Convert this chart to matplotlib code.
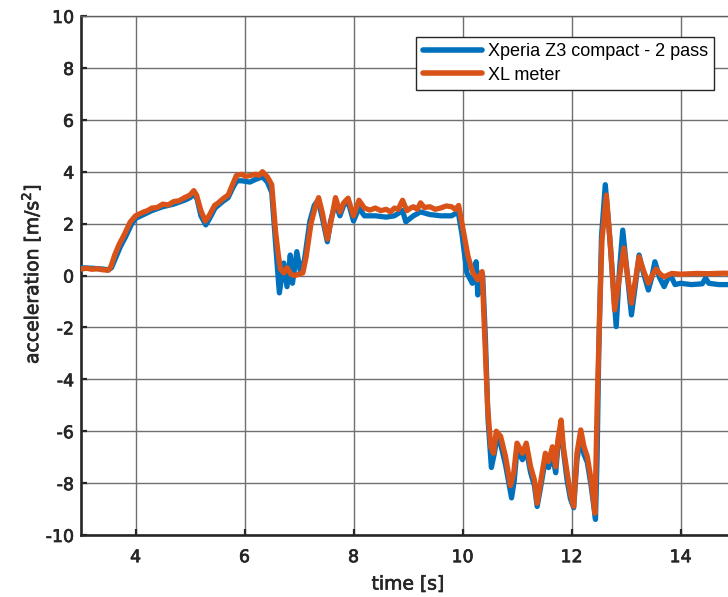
import matplotlib
matplotlib.use("Agg")
import matplotlib.pyplot as plt
import matplotlib.patheffects as pe

plt.rcParams["axes.unicode_minus"] = False

# ---- measured series -------------------------------------------------------
t_xl = [3.0, 3.1, 3.2, 3.3, 3.4, 3.5, 3.55, 3.62, 3.7, 3.8, 3.9, 4.0, 4.08,
        4.15, 4.22, 4.3, 4.4, 4.5, 4.6, 4.7, 4.8, 4.9, 5.0, 5.07, 5.12, 5.2,
        5.28, 5.35, 5.45, 5.52, 5.6, 5.7, 5.78, 5.85, 5.95, 6.02, 6.1, 6.2,
        6.27, 6.33, 6.42, 6.5, 6.57, 6.62, 6.66, 6.72, 6.78, 6.85, 6.92, 7.0,
        7.07, 7.13, 7.22, 7.3, 7.36, 7.43, 7.52, 7.58, 7.67, 7.75, 7.82, 7.9,
        8.0, 8.1, 8.2, 8.3, 8.4, 8.5, 8.6, 8.68, 8.75, 8.82, 8.9, 8.98, 9.05,
        9.1, 9.17, 9.23, 9.3, 9.4, 9.5, 9.6, 9.7, 9.8, 9.87, 9.93, 10.0, 10.1,
        10.19, 10.28, 10.36, 10.4, 10.46, 10.52, 10.57, 10.62, 10.7, 10.79,
        10.88, 10.94, 11.0, 11.1, 11.17, 11.25, 11.32, 11.37, 11.43, 11.52,
        11.58, 11.65, 11.71, 11.75, 11.81, 11.85, 11.92, 11.98, 12.04, 12.1,
        12.17, 12.23, 12.29, 12.36, 12.43, 12.47, 12.52, 12.56, 12.64, 12.72,
        12.79, 12.87, 12.96, 13.03, 13.1, 13.17, 13.24, 13.32, 13.41, 13.48,
        13.55, 13.63, 13.7, 13.84, 14.0, 14.3, 14.5, 14.8, 15.0]
a_xl = [0.25, 0.28, 0.24, 0.26, 0.22, 0.2, 0.35, 0.8, 1.2, 1.6, 2.05, 2.3,
        2.38, 2.45, 2.5, 2.6, 2.62, 2.75, 2.72, 2.85, 2.88, 3.0, 3.1, 3.27,
        3.1, 2.5, 2.1, 2.3, 2.7, 2.8, 2.95, 3.1, 3.5, 3.85, 3.9, 3.82, 3.85,
        3.9, 3.86, 4.0, 3.8, 3.5, 1.7, 0.8, 0.25, 0.1, 0.3, 0.05, 0.0, 0.05,
        0.1, 0.7, 2.0, 2.65, 3.0, 2.4, 1.4, 2.0, 3.0, 2.45, 2.8, 2.98, 2.3,
        2.9, 2.6, 2.52, 2.6, 2.5, 2.55, 2.45, 2.6, 2.55, 2.9, 2.5, 2.6, 2.65,
        2.55, 2.8, 2.62, 2.65, 2.55, 2.6, 2.68, 2.65, 2.55, 2.7, 1.9, 0.75,
        0.1, -0.17, 0.15, -1.97, -5.05, -6.6, -6.85, -6.0, -6.2, -6.98, -8.1,
        -7.6, -6.46, -6.85, -6.46, -7.37, -7.88, -8.78, -8.0, -6.85, -7.17,
        -6.6, -7.37, -6.34, -5.57, -6.6, -7.6, -8.4, -8.9, -6.85, -5.95,
        -6.6, -6.98, -7.88, -9.16, -5.05, -1.2, 1.37, 3.1, 1.0, -1.33, -0.2,
        1.06, 0.0, -1.07, -0.2, 0.72, 0.2, -0.3, 0.0, 0.25, 0.05, -0.05, 0.08,
        0.05, 0.08, 0.07, 0.09, 0.07]

t_phone = [3.0, 3.2, 3.4, 3.5, 3.56, 3.64, 3.72, 3.82, 3.92, 4.0, 4.15, 4.3,
           4.5, 4.7, 4.9, 5.0, 5.07, 5.13, 5.2, 5.29, 5.36, 5.46, 5.6, 5.7,
           5.79, 5.86, 5.95, 6.1, 6.2, 6.33, 6.42, 6.5, 6.56, 6.6, 6.64,
           6.72, 6.78, 6.84, 6.88, 6.96, 7.03, 7.1, 7.2, 7.28, 7.35, 7.43,
           7.52, 7.58, 7.67, 7.75, 7.82, 7.9, 8.0, 8.1, 8.2, 8.4, 8.6, 8.75,
           8.9, 8.96, 9.1, 9.23, 9.4, 9.6, 9.8, 9.92, 9.99, 10.08, 10.18,
           10.25, 10.28, 10.33, 10.37, 10.42, 10.47, 10.53, 10.58, 10.63,
           10.7, 10.79, 10.9, 10.95, 11.0, 11.1, 11.17, 11.25, 11.32, 11.37,
           11.43, 11.52, 11.58, 11.65, 11.71, 11.75, 11.81, 11.86, 11.92,
           11.98, 12.04, 12.1, 12.17, 12.23, 12.29, 12.36, 12.44, 12.47,
           12.5, 12.55, 12.62, 12.7, 12.82, 12.88, 12.94, 13.02, 13.1, 13.17,
           13.24, 13.32, 13.41, 13.47, 13.53, 13.62, 13.7, 13.76, 13.82,
           13.9, 14.0, 14.2, 14.4, 14.46, 14.52, 14.7, 15.0]
a_phone = [0.3, 0.28, 0.25, 0.22, 0.3, 0.7, 1.1, 1.5, 1.95, 2.2, 2.35, 2.5,
           2.65, 2.75, 2.9, 3.0, 3.15, 2.95, 2.3, 1.95, 2.2, 2.6, 2.85, 3.0,
           3.4, 3.65, 3.65, 3.6, 3.7, 3.8, 3.6, 3.2, 1.5, 0.4, -0.67, 0.48,
           -0.43, 0.79, -0.3, 0.92, 0.1, 0.6, 2.1, 2.7, 2.9, 2.2, 1.3, 2.1,
           2.8, 2.3, 2.7, 2.85, 2.1, 2.6, 2.3, 2.3, 2.25, 2.3, 2.5, 2.07, 2.3,
           2.45, 2.35, 2.3, 2.3, 2.45, 1.6, 0.1, -0.3, 0.53, -0.75, 0.1, 0.0,
           -2.4, -5.6, -7.4, -6.9, -6.3, -6.5, -7.3, -8.57, -7.9, -6.7, -7.1,
           -6.7, -7.6, -8.1, -8.9, -8.2, -7.1, -7.4, -6.9, -7.6, -6.6, -5.9,
           -6.9, -7.9, -8.6, -8.95, -7.1, -6.2, -6.9, -7.2, -8.1, -9.4, -7.0,
           -3.0, 1.5, 3.5, 1.5, -1.97, 0.2, 1.75, 0.1, -1.52, -0.4, 0.79, 0.1,
           -0.56, -0.1, 0.53, -0.1, -0.43, -0.15, 0.0, -0.35, -0.3, -0.35,
           -0.32, -0.1, -0.3, -0.35, -0.35]

series_names = ["Xperia Z3 compact - 2 pass", "XL meter"]
x_ticks = [4, 6, 8, 10, 12, 14]
y_ticks = [-10, -8, -6, -4, -2, 0, 2, 4, 6, 8, 10]
x_label = "time [s]"
y_label = r"acceleration [m/s$^2$]"

BLUE = "#0072BD"
ORANGE = "#D95319"
INK = "#262626"
heavy = [pe.withStroke(linewidth=0.5, foreground=INK)]

fig = plt.figure(figsize=(7.28, 5.97), dpi=100)
ax = fig.add_axes([81 / 728, 62 / 597, 654 / 728, 519 / 597])

ax.plot(t_phone, a_phone, color=BLUE, lw=3.8, solid_joinstyle="round",
        solid_capstyle="round", label=series_names[0], zorder=3)
ax.plot(t_xl, a_xl, color=ORANGE, lw=3.8, solid_joinstyle="round",
        solid_capstyle="round", label=series_names[1], zorder=4)

ax.set_xlim(3, 15)
ax.set_ylim(-10, 10)
ax.set_xticks(x_ticks)
ax.set_yticks(y_ticks)

ax.grid(True, color="#707070", lw=1.0)
ax.set_axisbelow(True)

for side in ("left", "bottom"):
    ax.spines[side].set_linewidth(1.9)
    ax.spines[side].set_color(INK)
ax.spines["top"].set_linewidth(1.0)
ax.spines["top"].set_color("#606060")
ax.spines["right"].set_visible(False)

TICK_FS = 12.5
ax.tick_params(axis="both", direction="in", length=4.5, width=1.6,
               color=INK, labelcolor=INK, labelsize=TICK_FS)
ax.tick_params(axis="y", pad=5)
ax.tick_params(axis="x", pad=9.5)
for lab in ax.get_xticklabels() + ax.get_yticklabels():
    lab.set_family("DejaVu Sans")
    lab.set_path_effects(heavy)

LAB_FS = 13.5
fig.text(408 / 728, 1 - 584 / 597, x_label, ha="center", va="center",
         family="DejaVu Sans", size=LAB_FS, color=INK, path_effects=heavy)
fig.text(31 / 728, 1 - 274 / 597, y_label, ha="center", va="center",
         rotation=90, family="DejaVu Sans", size=LAB_FS, color=INK,
         math_fontfamily="dejavusans", path_effects=heavy)

leg = ax.legend(loc="upper right", bbox_to_anchor=(714 / 728, 1 - 37 / 597),
                bbox_transform=fig.transFigure, borderaxespad=0,
                prop={"family": "Liberation Sans", "size": 13},
                handlelength=3.3, handletextpad=0.3, labelspacing=0.35,
                borderpad=0.35, fancybox=False, framealpha=1,
                edgecolor=INK)
leg.get_frame().set_linewidth(1.0)
for h in leg.get_lines():
    h.set_linewidth(4)

fig.savefig("out.png", dpi=100)
